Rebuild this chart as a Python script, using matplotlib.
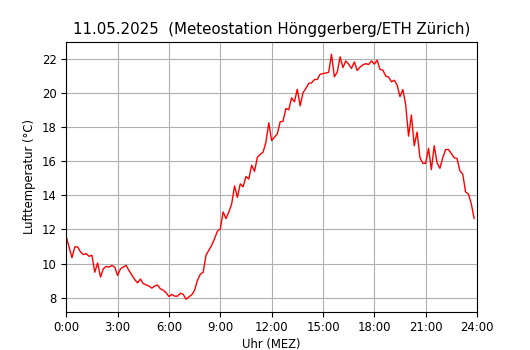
import matplotlib
matplotlib.use("Agg")
import matplotlib.pyplot as plt
import numpy as np

# 10-minute readings, 00:00 .. 23:50
minutes = np.arange(0, 1440, 10)
temperature = [
    11.57, 10.95, 10.35, 10.98, 10.98, 10.69, 10.53, 10.59, 10.43, 10.49,
    9.50, 10.04, 9.22, 9.70, 9.84, 9.80, 9.90, 9.80, 9.31, 9.70,
    9.80, 9.90, 9.60, 9.33, 9.07, 8.88, 9.10, 8.84, 8.76, 8.69,
    8.57, 8.69, 8.75, 8.53, 8.45, 8.30, 8.08, 8.20, 8.10, 8.10,
    8.27, 8.21, 7.92, 8.06, 8.18, 8.45, 9.03, 9.38, 9.50, 10.50,
    10.79, 11.08, 11.47, 11.90, 12.03, 13.03, 12.64, 13.03, 13.50, 14.55,
    13.88, 14.67, 14.50, 15.10, 14.95, 15.76, 15.40, 16.22, 16.40, 16.52,
    17.10, 18.24, 17.20, 17.40, 17.60, 18.30, 18.33, 19.08, 19.00, 19.70,
    19.47, 20.20, 19.23, 20.00, 20.25, 20.54, 20.58, 20.77, 20.77, 21.08,
    21.12, 21.15, 21.20, 22.25, 20.93, 21.20, 22.10, 21.47, 21.86, 21.67,
    21.42, 21.80, 21.30, 21.50, 21.63, 21.70, 21.65, 21.86, 21.67, 21.90,
    21.36, 21.32, 20.97, 20.92, 20.64, 20.73, 20.45, 19.77, 20.19, 19.30,
    17.46, 18.70, 16.90, 17.70, 16.20, 15.87, 15.87, 16.75, 15.50, 16.90,
    15.90, 15.58, 16.20, 16.68, 16.68, 16.44, 16.20, 16.15, 15.43, 15.24,
    14.20, 14.07, 13.50, 12.64,
]
tick_hours = list(range(0, 25, 3))
tick_labels = [f"{h}:00" for h in tick_hours]

hours = minutes / 60.0

fig, ax = plt.subplots(figsize=(5.3, 3.5), dpi=100)
ax.plot(hours, temperature, color="red", linewidth=1)
ax.set_xlim(0, 24)
ax.set_xticks(tick_hours)
ax.set_xticklabels(tick_labels)
ax.tick_params(labelsize=8.4)
ax.grid(True, color="#b0b0b0")
ax.set_xlabel("Uhr (MEZ)", fontsize=8.4, labelpad=3)
ax.set_ylabel("Lufttemperatur (°C)", fontsize=8.4)
ax.set_title("11.05.2025  (Meteostation Hönggerberg/ETH Zürich)", fontsize=10.8)

fig.savefig("out.png", dpi=100)
plt.close(fig)
